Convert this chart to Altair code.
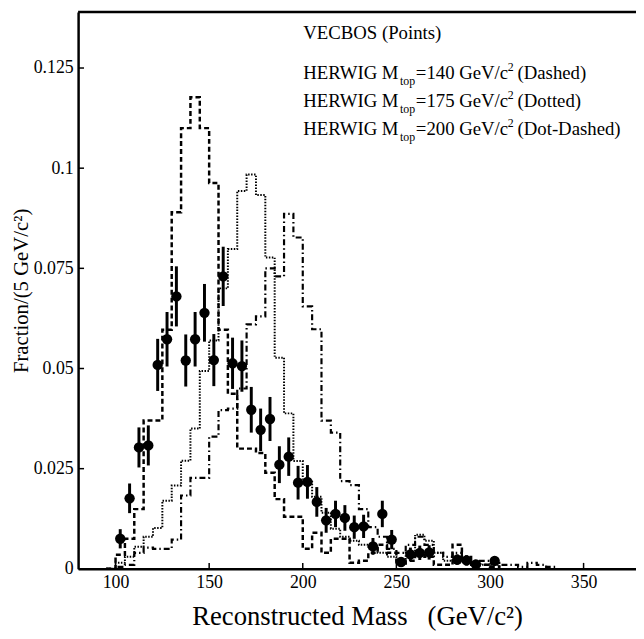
import altair as alt
import pandas as pd

# ---------------- data ----------------
BIN_W = 5
HIST_START = 100

# HERWIG Mtop=140 (dashed), fraction per 5 GeV bin starting at 100 GeV
m140 = [0.0035, 0.0075, 0.0149, 0.037, 0.037, 0.0597, 0.089, 0.110, 0.1177, 0.110,
        0.0963, 0.0597, 0.0437, 0.030, 0.030, 0.0289, 0.024, 0.0174, 0.013, 0.013,
        0.005, 0.009, 0.004, 0.0075, 0.0075, 0.0015, 0.002, 0.004, 0.006, 0.004,
        0.001, 0.002, 0.004, 0.003, 0.001, 0.001, 0.006, 0.002, 0.001, 0.001, 0.0005]
# HERWIG Mtop=175 (dotted)
m175 = [0.0015, 0.003, 0.0055, 0.008, 0.0102, 0.017, 0.0208, 0.027, 0.035, 0.0494,
        0.057, 0.070, 0.0798, 0.0943, 0.0984, 0.0933, 0.0777, 0.0527, 0.0388, 0.0269,
        0.022, 0.018, 0.014, 0.010, 0.008, 0.007, 0.006, 0.005, 0.004, 0.003,
        0.002, 0.004, 0.0085, 0.007, 0.004, 0.002, 0.003, 0.002, 0.0015, 0.001, 0.001]
# HERWIG Mtop=200 (dot-dashed)
m200 = [0.0005, 0.001, 0.004, 0.0053, 0.005, 0.005, 0.0073, 0.0183, 0.0227, 0.0227,
        0.033, 0.0396, 0.040, 0.045, 0.061, 0.063, 0.075, 0.073, 0.0886, 0.0827,
        0.0655, 0.0598, 0.037, 0.034, 0.0219, 0.0209, 0.0149, 0.0104, 0.008, 0.005,
        0.004, 0.006, 0.008, 0.006, 0.004, 0.003, 0.004, 0.003, 0.002, 0.002,
        0.0015, 0.001, 0.001, 0.0005, 0.0015, 0.001, 0.0005]

# VECBOS points
vec_mass = [102.5, 107.5, 112.5, 117.5, 122.5, 127.5, 132.5, 137.5, 142.5, 147.5,
            152.5, 157.5, 162.5, 167.5, 172.5, 177.5, 182.5, 187.5, 192.5, 197.5,
            202.5, 207.5, 212.5, 217.5, 222.5, 227.5, 232.5, 237.5, 242.5, 247.5,
            252.5, 257.5, 262.5, 267.5, 282.5, 287.5, 292.5, 302.5]
vec_frac = [0.0075, 0.0176, 0.0303, 0.0308, 0.0509, 0.0573, 0.068, 0.052, 0.0573, 0.0639,
            0.0521, 0.073, 0.0513, 0.0506, 0.0397, 0.0347, 0.0374, 0.026, 0.028, 0.0215,
            0.0217, 0.0167, 0.0121, 0.0137, 0.0127, 0.0104, 0.0106, 0.0056, 0.0137, 0.0073,
            0.0017, 0.0036, 0.0040, 0.0041, 0.0023, 0.0021, 0.0011, 0.0020]
vec_err = [0.0024, 0.0037, 0.0050, 0.0050, 0.0065, 0.0068, 0.0075, 0.0065, 0.0068, 0.0072,
           0.0065, 0.0074, 0.0064, 0.0064, 0.0057, 0.0053, 0.0055, 0.0046, 0.0048, 0.0042,
           0.0042, 0.0037, 0.0031, 0.0033, 0.0032, 0.0029, 0.0029, 0.0021, 0.0033, 0.0024,
           0.0012, 0.0017, 0.0018, 0.0018, 0.0013, 0.0013, 0.0009, 0.0012]

x_ticks = [100, 150, 200, 250, 300, 350]
y_ticks = [0, 0.025, 0.05, 0.075, 0.1, 0.125]

X_TITLE = "Reconstructed Mass\u00a0\u00a0\u00a0(GeV/c\u00b2)"
Y_TITLE = "Fraction/(5 GeV/c\u00b2)"

# ---------------- layout ----------------
W, H = 565, 564
FONT = "Liberation Serif"

def hist_df(vals):
    xs = [HIST_START - BIN_W] + [HIST_START + i * BIN_W for i in range(len(vals))] \
         + [HIST_START + len(vals) * BIN_W]
    ys = [0.0] + list(vals) + [0.0]
    return pd.DataFrame({"mass": xs, "frac": ys, "ord": list(range(len(xs)))})

xscale = alt.Scale(domain=[80, 378], nice=False, zero=False)
yscale = alt.Scale(domain=[0, 0.139], nice=False, zero=True)

xaxis = alt.Axis(values=x_ticks, title=X_TITLE, ticks=False, grid=False,
                 labelFontSize=18, labelPadding=5, titleFontSize=27,
                 titlePadding=12, labelFlush=False)
yaxis = alt.Axis(values=y_ticks, title=Y_TITLE, format=".3~f", ticks=False, grid=False,
                 labelFontSize=18, labelPadding=5, titleFontSize=21,
                 titleX=-57, titleBaseline="middle", labelFlush=False)

X = alt.X("mass:Q", scale=xscale, axis=xaxis)
Y = alt.Y("frac:Q", scale=yscale, axis=yaxis)

def hist_layer(vals, dash, width):
    return alt.Chart(hist_df(vals)).mark_line(
        interpolate="step-after", color="black", strokeDash=dash,
        strokeWidth=width, clip=True
    ).encode(x=X, y=Y, order="ord:Q")

h140 = hist_layer(m140, [5, 3], 2.5)
h175 = hist_layer(m175, [1.5, 1.5], 2.0)
h200 = hist_layer(m200, [6, 3, 1.5, 3], 2.2)

vec_df = pd.DataFrame({"mass": vec_mass, "frac": vec_frac, "err": vec_err})
vec_df["lo"] = vec_df["frac"] - vec_df["err"]
vec_df["hi"] = vec_df["frac"] + vec_df["err"]

errbars = alt.Chart(vec_df).mark_rule(color="black", strokeWidth=3).encode(
    x=X, y=alt.Y("lo:Q", scale=yscale, axis=yaxis), y2="hi:Q")
points = alt.Chart(vec_df).mark_circle(color="black", opacity=1, size=110).encode(x=X, y=Y)

xt = alt.Chart(pd.DataFrame({"mass": x_ticks})).mark_rule(color="black", strokeWidth=1.5).encode(
    x=X, y=alt.value(H), y2=alt.value(H - 6))
yt = alt.Chart(pd.DataFrame({"frac": y_ticks})).mark_rule(color="black", strokeWidth=1.5).encode(
    y=Y, x=alt.value(0), x2=alt.value(6))

top_line = alt.Chart(pd.DataFrame({"mass": [80]})).mark_rule(color="black", strokeWidth=2.5).encode(
    x=alt.value(0), x2=alt.value(W), y=alt.value(0))

def txt(s, x, y, size=19):
    return alt.Chart(pd.DataFrame({"t": [s]})).mark_text(
        font=FONT, fontSize=size, align="left", baseline="alphabetic", color="black"
    ).encode(text="t:N", x=alt.value(x), y=alt.value(y))

legend_lines = [
    ("140", "(Dashed)"),
    ("175", "(Dotted)"),
    ("200", "(Dot-Dashed)"),
]
texts = [txt("VECBOS (Points)", 228, 27)]
base_y = [68, 96.5, 124.5]
for (m, style), by in zip(legend_lines, base_y):
    texts.append(txt("HERWIG M", 228, by))
    texts.append(txt("top", 326, by + 6, 12))
    texts.append(txt("=" + m + " GeV/c", 342, by))
    texts.append(txt("2", 435, by - 8, 12))
    texts.append(txt(style, 445, by))

chart = alt.layer(h175, h200, h140, errbars, points, xt, yt, top_line, *texts).properties(
    width=W, height=H,
    autosize=alt.AutoSizeParams(type="none"),
    padding={"left": 71, "top": 0, "right": 0, "bottom": 60},
).configure_view(stroke=None).configure_axis(
    labelFont=FONT, titleFont=FONT, labelColor="black", titleColor="black",
    domainColor="black", domainWidth=2.5, titleFontWeight="normal"
)

chart.save("out.html", embed_options={"renderer": "svg", "actions": False})
